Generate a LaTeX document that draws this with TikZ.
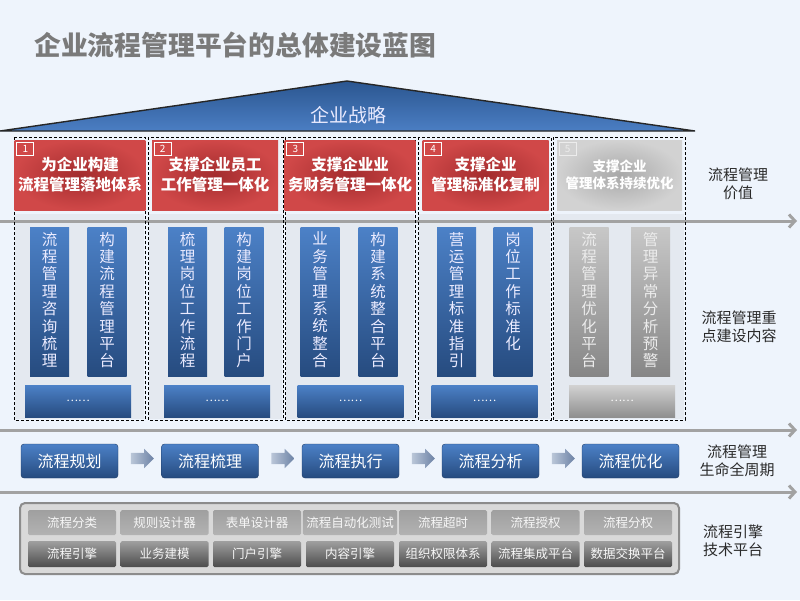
\documentclass[tikz,border=0pt]{standalone}
\usepackage{fontspec}
\setmainfont{Noto Sans CJK SC}
\usetikzlibrary{positioning,arrows.meta,shapes.arrows}

\definecolor{bgblue}{HTML}{EEF4FC}
\definecolor{titlegray}{HTML}{7A7A7A}
\definecolor{rooftop}{HTML}{2B5690}
\definecolor{roofbot}{HTML}{4B7EC3}
\definecolor{redin}{HTML}{A32C2E}
\definecolor{redout}{HTML}{D04848}
\definecolor{greyin}{HTML}{A8A8A8}
\definecolor{greyout}{HTML}{D2D2D2}
\definecolor{boxtop}{HTML}{4C81C7}
\definecolor{boxbot}{HTML}{264B7F}
\definecolor{panel}{HTML}{E4E9F0}
\definecolor{linegray}{HTML}{A2A2A2}
\definecolor{labeltext}{HTML}{2A2A2A}
\definecolor{arrleft}{HTML}{BAC6D8}
\definecolor{arrright}{HTML}{6C82A5}

\begin{document}
\begin{tikzpicture}[x=1pt,y=-1pt,
  hdr/.style={rectangle,inner color=redin,outer color=redout,minimum width=126pt,minimum height=70pt,
    text=white,align=center,font=\fontsize{15.5}{20}\selectfont\bfseries},
  hdrgrey/.style={hdr,inner color=greyin,outer color=greyout,minimum width=125pt,font=\fontsize{13.5}{17}\selectfont\bfseries},
  numbox/.style={rectangle,draw=white,line width=0.9pt,minimum width=17pt,minimum height=13pt,inner sep=0pt,
    text=white,font=\fontsize{10}{10}\selectfont},
  vbox/.style={rectangle,top color=boxtop,bottom color=boxbot,minimum width=39pt,minimum height=149pt},
  vboxgrey/.style={vbox,top color=greyout!95!black,bottom color=greyin!80!black},
  vtext/.style={inner sep=0pt,align=center,text=white!92!blue,font=\fontsize{15.5}{17.4}\selectfont},
  wbox/.style={rectangle,top color=boxtop,bottom color=boxbot,minimum width=106pt,minimum height=32pt,
    text=white,font=\fontsize{11}{11}\selectfont},
  wboxgrey/.style={wbox,top color=greyout,bottom color=greyin!85!black},
  cyc/.style={rectangle,rounded corners=3pt,draw=boxbot!80!black,top color=boxtop,bottom color=boxbot,
    minimum width=97pt,minimum height=34pt,text=white,font=\fontsize{16}{16}\selectfont},
  cycarr/.style={shape=single arrow,left color=arrleft,right color=arrright,
    minimum height=23pt,minimum width=19pt,single arrow head extend=4pt,inner xsep=0pt,inner ysep=5.5pt},
  cell/.style={rectangle,rounded corners=1.5pt,top color=gray!75,bottom color=gray!140!black,
    minimum width=88pt,minimum height=25pt,text=white!94!gray,font=\fontsize{12.5}{12.5}\selectfont},
  celldark/.style={cell,top color=gray!125!black,bottom color=black!70,minimum height=26pt},
  longarr/.style={draw=linegray,line width=3pt,-{Straight Barb[length=6pt,width=13pt]}},
  sidelabel/.style={align=center,text=labeltext,font=\fontsize{15}{18.5}\selectfont},
  colframe/.style={draw=black,densely dashed,line width=0.6pt}]

  % background and page size
  \fill[bgblue] (0,0) rectangle (800,600);
  \useasboundingbox (0,0) rectangle (800,600);

  \node[anchor=west,inner sep=0pt,text=titlegray,font=\fontsize{26.8}{26.8}\selectfont\bfseries] (title) at (34,45)
    {企业流程管理平台的总体建设蓝图};

  % roof
  \shade[top color=rooftop,bottom color=roofbot] (0,131) -- (347,81) -- (695,131) -- cycle;
  \draw[black!85,line width=1.4pt] (0,131) -- (347,81) -- (695,131) -- cycle;
  \node[text=white!92!blue,font=\fontsize{19}{19}\selectfont] (strategy) at (348,115) {企业战略};

  % column panels
  \fill[panel] (15,214) rectangle (144,419);
  \fill[panel] (149,214) rectangle (282,419);
  \fill[panel] (286,214) rectangle (414,419);
  \fill[panel] (419,214) rectangle (550,419);
  \fill[panel] (554,214) rectangle (684,419);

  % long grey arrows
  \coordinate (v0) at (0,221);  \coordinate (v1) at (797,221);
  \coordinate (l0) at (0,430);  \coordinate (l1) at (797,430);
  \coordinate (p0) at (0,492);  \coordinate (p1) at (797,492);
  \draw[longarr] (v0) -- (v1);
  \draw[longarr] (l0) -- (l1);
  \draw[longarr] (p0) -- (p1);

  % dashed column frames
  \draw[colframe] (14,137) rectangle (145,420);
  \draw[colframe] (148,137) rectangle (283,420);
  \draw[colframe] (285,137) rectangle (415,420);
  \draw[colframe] (418,137) rectangle (551,420);
  \draw[colframe] (553,137) rectangle (685,420);

  % value headers
  \node[hdr] (h1) at (80,175) {为企业构建\\流程管理落地体系};
  \node[hdr] (h2) at (215,175) {支撑企业员工\\工作管理一体化};
  \node[hdr] (h3) at (350,175) {支撑企业业\\务财务管理一体化};
  \node[hdr] (h4) at (485.5,175) {支撑企业\\管理标准化复制};
  \node[hdrgrey] (h5) at (619.5,175) {支撑企业\\管理体系持续优化};
  \node[numbox,below right=2pt and 2pt of h1.north west] (n1) {1};
  \node[numbox,below right=2pt and 2pt of h2.north west] (n2) {2};
  \node[numbox,below right=2pt and 2pt of h3.north west] (n3) {3};
  \node[numbox,below right=2pt and 2pt of h4.north west] (n4) {4};
  \node[numbox,draw=white!85!gray,text=white!85!gray,below right=2pt and 2pt of h5.north west] (n5) {5};

  % key contents
  \node[vbox] (b11) at (49.5,301.5) {};
  \node[vbox] (b12) at (107,301.5) {};
  \node[vbox] (b21) at (187.5,301.5) {};
  \node[vbox] (b22) at (244,301.5) {};
  \node[vbox] (b31) at (320,301.5) {};
  \node[vbox] (b32) at (378,301.5) {};
  \node[vbox] (b41) at (456.5,301.5) {};
  \node[vbox] (b42) at (513,301.5) {};
  \node[vboxgrey] (b51) at (589,301.5) {};
  \node[vboxgrey] (b52) at (650.5,301.5) {};
  \node[vtext,below=5pt of b11.north] (t11) {流\\程\\管\\理\\咨\\询\\梳\\理};
  \node[vtext,below=5pt of b12.north] (t12) {构\\建\\流\\程\\管\\理\\平\\台};
  \node[vtext,below=5pt of b21.north] (t21) {梳\\理\\岗\\位\\工\\作\\流\\程};
  \node[vtext,below=5pt of b22.north] (t22) {构\\建\\岗\\位\\工\\作\\门\\户};
  \node[vtext,below=5pt of b31.north] (t31) {业\\务\\管\\理\\系\\统\\整\\合};
  \node[vtext,below=5pt of b32.north] (t32) {构\\建\\系\\统\\整\\合\\平\\台};
  \node[vtext,below=5pt of b41.north] (t41) {营\\运\\管\\理\\标\\准\\指\\引};
  \node[vtext,below=5pt of b42.north] (t42) {岗\\位\\工\\作\\标\\准\\化};
  \node[vtext,text=white!85!gray,below=5pt of b51.north] (t51) {流\\程\\管\\理\\优\\化\\平\\台};
  \node[vtext,text=white!85!gray,below=5pt of b52.north] (t52) {管\\理\\异\\常\\分\\析\\预\\警};
  \node[wbox] (w1) at (78,401) {……};
  \node[wbox] (w2) at (217,401) {……};
  \node[wbox] (w3) at (350.5,401) {……};
  \node[wbox] (w4) at (484.5,401) {……};
  \node[wboxgrey] (w5) at (622,401) {……};

  % life cycle
  \node[cyc] (c1) at (69.5,461) {流程规划};
  \node[cyc] (c2) at (210,461) {流程梳理};
  \node[cyc] (c3) at (350.5,461) {流程执行};
  \node[cyc] (c4) at (490.5,461) {流程分析};
  \node[cyc] (c5) at (630.5,461) {流程优化};
  \node[cycarr] (a12) at (139.5,458.5) {};
  \node[cycarr] (a23) at (280,458.5) {};
  \node[cycarr] (a34) at (420.5,458.5) {};
  \node[cycarr] (a45) at (560.5,458.5) {};

  % engine platform
  \node[rectangle,rounded corners=5pt,draw=gray!110!black,line width=2pt,fill=gray!30,
    minimum width=659pt,minimum height=71pt] (plat) at (349.5,538.5) {};
  \node[cell] (e11) at (72,522.5) {流程分类};
  \node[cell] (e12) at (164.5,522.5) {规则设计器};
  \node[cell] (e13) at (257,522.5) {表单设计器};
  \node[cell] (e14) at (350,522.5) {流程自动化测试};
  \node[cell] (e15) at (443,522.5) {流程超时};
  \node[cell] (e16) at (535.5,522.5) {流程授权};
  \node[cell] (e17) at (628,522.5) {流程分权};
  \node[celldark] (e21) at (72,554) {流程引擎};
  \node[celldark] (e22) at (164.5,554) {业务建模};
  \node[celldark] (e23) at (257,554) {门户引擎};
  \node[celldark] (e24) at (350,554) {内容引擎};
  \node[celldark] (e25) at (443,554) {组织权限体系};
  \node[celldark] (e26) at (535.5,554) {流程集成平台};
  \node[celldark] (e27) at (628,554) {数据交换平台};

  % side labels
  \node[sidelabel] (lv) at (738,184) {流程管理\\价值};
  \node[sidelabel] (lc) at (739,327) {流程管理重\\点建设内容};
  \node[sidelabel] (ll) at (737,461) {流程管理\\生命全周期};
  \node[sidelabel] (le) at (733,541) {流程引擎\\技术平台};
\end{tikzpicture}
\end{document}
